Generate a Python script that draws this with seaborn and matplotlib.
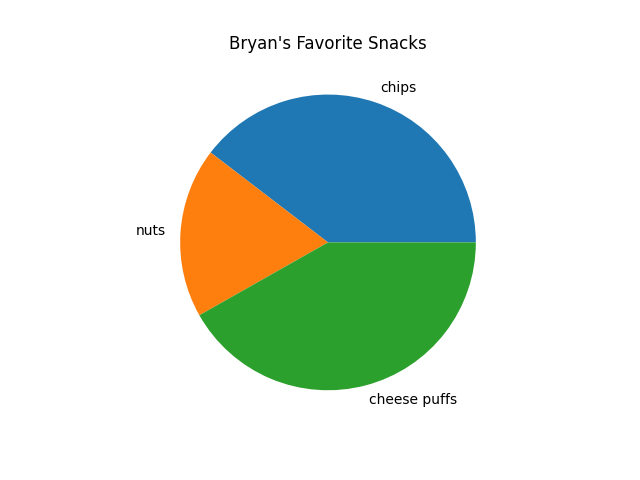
import matplotlib
matplotlib.use("Agg")
import matplotlib.pyplot as plt
import seaborn as sns

snacks = ["chips", "nuts", "cheese puffs"]
amounts = [198, 93, 209]

colors = sns.color_palette("tab10", 3)

fig, ax = plt.subplots(figsize=(6.4, 4.8), dpi=100)
ax.pie(amounts, labels=snacks, colors=colors)
ax.set_title("Bryan's Favorite Snacks")
fig.savefig("out.png", dpi=100)
